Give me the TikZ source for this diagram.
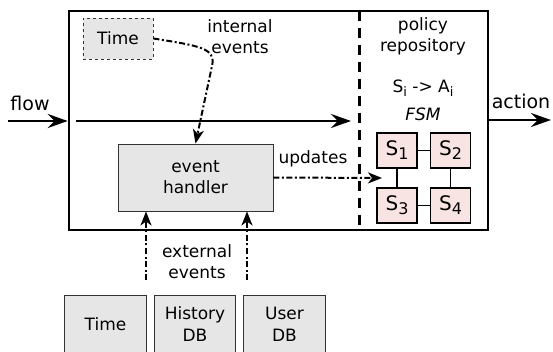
\documentclass[tikz,border=0pt]{standalone}
\usepackage{fontspec}
\setmainfont{DejaVu Sans}
\usetikzlibrary{arrows.meta}
\definecolor{boxgray}{HTML}{E6E6E6}
\definecolor{statepink}{HTML}{F9E4E4}
\newcommand{\sub}[1]{{\fontsize{16}{16}\selectfont\raisebox{-4pt}{#1}}}
\newcommand{\ssub}[1]{{\fontsize{13}{13}\selectfont\raisebox{-3.5pt}{#1}}}
\tikzset{
  lbl/.style={font=\fontsize{17}{21}\selectfont, align=center, inner sep=0pt},
  biglbl/.style={font=\fontsize{19}{22}\selectfont, inner sep=0pt},
  graybox/.style={fill=boxgray, draw=black!80, line width=0.9pt, align=center, inner sep=0pt, font=\fontsize{17}{21}\selectfont},
  dbbox/.style={fill=boxgray, draw=none, align=center, inner sep=0pt, font=\fontsize{17}{22}\selectfont, minimum width=81pt, minimum height=56pt},
  statebox/.style={fill=statepink, draw=black, line width=1.3pt, minimum width=40pt, minimum height=35pt, inner sep=0pt, font=\fontsize{20}{20}\selectfont},
  dd/.style={line width=2pt, dash pattern=on 6pt off 2.5pt on 2pt off 2.5pt, -{Stealth[length=14pt,width=11pt,inset=4pt]}},
  solidarrow/.style={line width=2.6pt, -{Stealth[length=20pt,width=14pt,inset=7pt]}},
}
\begin{document}
\begin{tikzpicture}[x=1pt,y=-1pt]
\useasboundingbox (0,0) rectangle (553,352);
\clip (0,0) rectangle (553,352);
% main frame
\node[draw=black, line width=2.6pt, minimum width=419pt, minimum height=219pt, inner sep=0pt] (frame) at (278.5,120.5) {};
% divider
\coordinate (dtop) at (359,11);
\coordinate (dbot) at (359,230);
\draw[line width=3pt, dash pattern=on 10pt off 7pt] (dtop) -- (dbot);
% internal time
\node[graybox, dashed, minimum width=70pt, minimum height=41pt] (tint) at (118,38.5) {Time};
\node[lbl] (inttxt) at (240,37) {internal\\events};
% event handler
\node[graybox, minimum width=155pt, minimum height=67pt] (eh) at (195.5,177.5) {event\\handler};
% policy repository
\node[lbl] (pol) at (423,36) {policy\\repository};
\node[lbl] (map) at (423,88) {S\ssub{i} -> A\ssub{i}};
\node[lbl, font=\fontsize{17}{21}\selectfont\itshape] (fsm) at (423,114) {FSM};
% states
\node[statebox] (s1) at (397,150.5) {S\sub{1}};
\node[statebox] (s2) at (450.5,150.5) {S\sub{2}};
\node[statebox] (s3) at (397,205.5) {S\sub{3}};
\node[statebox] (s4) at (450.5,205.5) {S\sub{4}};
\draw[line width=1.2pt] (s1) -- (s2);
\draw[line width=1.2pt] (s3) -- (s4);
\draw[line width=1.2pt] (s1) -- (s3);
\draw[line width=1.2pt] (s2) -- (s4);
% flow
\coordinate (fin) at (8,121);
\coordinate (fl0) at (76,121);
\coordinate (fl1) at (351,121);
\coordinate (aout) at (551,120);
\draw[solidarrow] (fin) -- (frame.west |- fin);
\draw[solidarrow] (fl0) -- (fl1);
\draw[solidarrow] (frame.east |- aout) -- (aout);
\node[biglbl] (flowtxt) at (30,103) {flow};
\node[biglbl] (acttxt) at (521,101) {action};
% internal events connector
\coordinate (bend) at (212,66);
\draw[dd] (tint.east) .. controls (200,46) and (216,48) .. (bend) -- (eh.north);
% updates
\coordinate (upd) at (382,178);
\draw[dd] (eh.east) -- (upd);
\node[lbl] (updtxt) at (313,159) {updates};
% external events
\coordinate (e1) at (146,280);
\coordinate (e2) at (247,280);
\draw[dd] (e1) -- (e1 |- eh.south);
\draw[dd] (e2) -- (e2 |- eh.south);
\node[lbl] (exttxt) at (197,262) {external\\events};
% bottom sources
\node[dbbox] (db1) at (105.5,324) {Time};
\node[dbbox, minimum width=80pt] (db2) at (195,324) {History\\DB};
\node[dbbox] (db3) at (284.5,324) {User\\DB};
\foreach \n in {db1,db2,db3}{
  \draw[draw=black!80, line width=0.9pt] ([yshift=-8pt]\n.south west) -- (\n.north west) -- (\n.north east) -- ([yshift=-8pt]\n.south east);
}
\end{tikzpicture}
\end{document}
